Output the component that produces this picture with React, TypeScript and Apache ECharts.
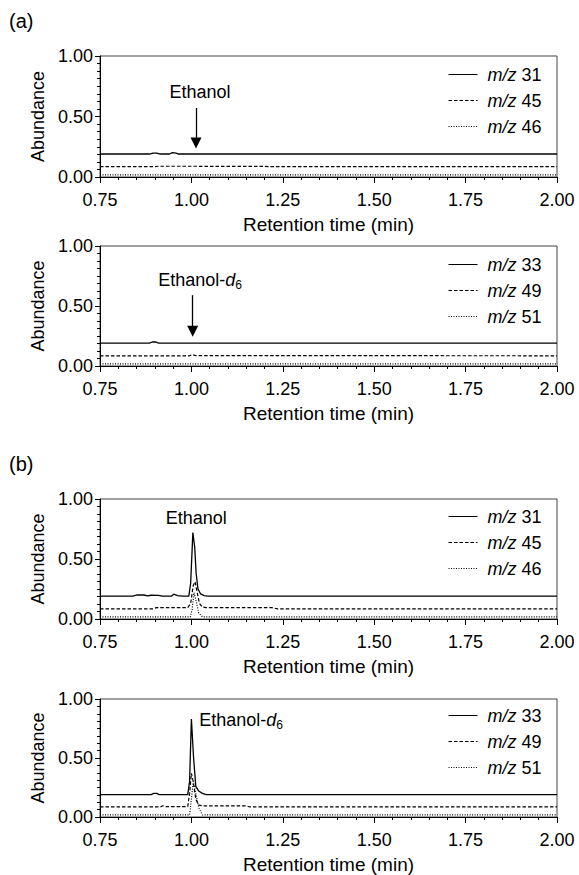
import React, { useEffect, useRef } from "react";
import * as echarts from "echarts";

// ---------- data ----------
const panelLetters = ["(a)", "(b)"];
const xTickRange = [0.75, 2.0];
const yTickRange = [0.0, 1.0];

const namesD0 = ["m/z 31", "m/z 45", "m/z 46"];
const namesD6 = ["m/z 33", "m/z 49", "m/z 51"];

// (a) upper: m/z 31 / 45 / 46
const aTop31 = [[0.75, 0.19], [0.885, 0.19], [0.895, 0.198], [0.905, 0.198], [0.915, 0.19], [0.94, 0.19], [0.948, 0.201], [0.958, 0.197], [0.965, 0.19], [2.0, 0.19]];
const aTop45 = [[0.75, 0.085], [0.9, 0.085], [0.91, 0.089], [1.2, 0.088], [1.22, 0.085], [2.0, 0.085]];
const aTop46 = [[0.75, 0.017], [2.0, 0.017]];

// (a) lower: m/z 33 / 49 / 51
const aBot33 = [[0.75, 0.19], [0.885, 0.19], [0.893, 0.2], [0.903, 0.2], [0.91, 0.19], [2.0, 0.19]];
const aBot49 = [[0.75, 0.085], [0.995, 0.085], [1.003, 0.095], [1.012, 0.087], [2.0, 0.085]];
const aBot51 = [[0.75, 0.017], [2.0, 0.017]];

// (b) upper
const bTop31 = [[0.75, 0.19], [0.84, 0.19], [0.85, 0.2], [0.87, 0.2], [0.88, 0.192], [0.89, 0.198], [0.91, 0.197], [0.92, 0.19], [0.945, 0.19], [0.952, 0.207], [0.962, 0.195], [0.975, 0.19], [0.993, 0.19], [0.998, 0.3], [1.004, 0.72], [1.009, 0.6], [1.013, 0.38], [1.018, 0.25], [1.025, 0.21], [1.035, 0.195], [1.045, 0.19], [2.0, 0.19]];
const bTop45 = [[0.75, 0.085], [0.895, 0.085], [0.905, 0.095], [0.99, 0.095], [0.998, 0.13], [1.005, 0.28], [1.01, 0.31], [1.016, 0.22], [1.022, 0.13], [1.03, 0.1], [1.04, 0.095], [1.22, 0.095], [1.235, 0.085], [2.0, 0.085]];
const bTop46 = [[0.75, 0.018], [0.997, 0.018], [1.002, 0.08], [1.007, 0.22], [1.013, 0.15], [1.02, 0.05], [1.03, 0.018], [2.0, 0.018]];

// (b) lower
const bBot33 = [[0.75, 0.19], [0.89, 0.19], [0.897, 0.2], [0.905, 0.2], [0.912, 0.19], [0.99, 0.19], [0.995, 0.3], [1.0, 0.83], [1.006, 0.5], [1.012, 0.26], [1.02, 0.22], [1.03, 0.2], [1.04, 0.19], [2.0, 0.19]];
const bBot49 = [[0.75, 0.085], [0.915, 0.085], [0.922, 0.095], [0.93, 0.088], [0.99, 0.088], [0.995, 0.2], [1.0, 0.37], [1.005, 0.3], [1.012, 0.15], [1.02, 0.1], [1.03, 0.095], [1.15, 0.095], [1.16, 0.085], [2.0, 0.085]];
const bBot51 = [[0.75, 0.018], [0.995, 0.018], [1.0, 0.15], [1.005, 0.3], [1.012, 0.2], [1.02, 0.08], [1.03, 0.018], [2.0, 0.018]];

// annotation text anchors [x, y] and arrows [[x, yStart], [x, yEnd]]
const labelTexts = ["Ethanol", "Ethanol-{i|d}{s|6}", "Ethanol", "Ethanol-{i|d}{s|6}"];
const labelCoords = [[1.0235, 0.705], [1.0235, 0.715], [1.0134, 0.845], [1.136, 0.82]];
const arrowCoords: (number[][] | null)[] = [
  [[1.0126, 0.57], [1.0126, 0.28]],
  [[1.0035, 0.59], [1.0035, 0.29]],
  null,
  null,
];

const panelSeries = [
  [aTop31, aTop45, aTop46],
  [aBot33, aBot49, aBot51],
  [bTop31, bTop45, bTop46],
  [bBot33, bBot49, bBot51],
];
const panelNames = [namesD0, namesD6, namesD0, namesD6];

// ---------- layout / style ----------
const FONT = "'Liberation Sans', Arial, Helvetica, sans-serif";
const gridTops = [56, 246, 499, 699];
const gridHeights = [121, 120, 120, 120];
const legendTops = [65.5, 255.5, 507.5, 706.5];
const dashTypes: any[] = ["solid", [3.5, 2], [1, 1.5]];

export default function App() {
  const ref = useRef<HTMLDivElement>(null);

  useEffect(() => {
    if (!ref.current) return;
    const chart = echarts.init(ref.current, null, { renderer: "svg" });

    const grids: any[] = [];
    const xAxes: any[] = [];
    const yAxes: any[] = [];
    const series: any[] = [];
    const legends: any[] = [];

    const richSub = {
      i: { fontStyle: "italic", fontSize: 18, fontFamily: FONT, color: "#000" },
      s: { fontSize: 12, fontFamily: FONT, color: "#000", verticalAlign: "bottom", lineHeight: 22 },
    };

    for (let p = 0; p < 4; p++) {
      grids.push({
        left: 100,
        right: 22,
        top: gridTops[p],
        height: gridHeights[p],
        show: true,
        borderColor: "#444",
        borderWidth: 1,
      });
      xAxes.push({
        type: "value",
        gridIndex: p,
        min: xTickRange[0],
        max: xTickRange[1],
        interval: 0.25,
        name: "Retention time (min)",
        nameLocation: "middle",
        nameGap: 38,
        nameTextStyle: { fontSize: 19, fontFamily: FONT, color: "#000" },
        axisLine: { onZero: false, lineStyle: { color: "#000", width: 1 } },
        axisTick: { show: true, inside: false, length: 6, lineStyle: { color: "#000" } },
        minorTick: { show: true, splitNumber: 5, length: 3, lineStyle: { color: "#000" } },
        splitLine: { show: false },
        axisLabel: {
          fontSize: 18,
          fontFamily: FONT,
          color: "#000",
          margin: 14,
          formatter: (v: number) => v.toFixed(2),
        },
      });
      yAxes.push({
        type: "value",
        gridIndex: p,
        min: yTickRange[0],
        max: yTickRange[1],
        interval: 0.5,
        name: "Abundance",
        nameLocation: "middle",
        nameGap: 46,
        nameTextStyle: { fontSize: 18, fontFamily: FONT, color: "#000" },
        axisLine: { show: true, onZero: false, lineStyle: { color: "#000", width: 1 } },
        axisTick: { show: true, inside: false, length: 5, lineStyle: { color: "#000" } },
        minorTick: { show: true, splitNumber: 8, length: 3, lineStyle: { color: "#000" } },
        splitLine: { show: false },
        axisLabel: {
          fontSize: 18,
          fontFamily: FONT,
          color: "#000",
          margin: 7,
          formatter: (v: number) => v.toFixed(2),
        },
      });

      legends.push({
        orient: "vertical",
        left: 448,
        top: legendTops[p],
        padding: 0,
        itemGap: 8,
        itemWidth: 29,
        itemHeight: 10,
        data: panelNames[p],
        selectedMode: false,
        itemStyle: { color: "rgba(0,0,0,0)", borderColor: "rgba(0,0,0,0)", borderWidth: 0, opacity: 0 },
        lineStyle: { width: 1 },
        textStyle: {
          fontSize: 18,
          fontFamily: FONT,
          color: "#000",
          lineHeight: 18,
          padding: [0, 0, 0, 5],
          rich: {
            i: { fontStyle: "italic", fontSize: 18, fontFamily: FONT, color: "#000", lineHeight: 18 },
          },
        },
        formatter: (name: string) => {
          const parts = name.split(" ");
          return `{i|${parts[0]}} ${parts[1]}`;
        },
      });

      for (let k = 0; k < 3; k++) {
        const s: any = {
          type: "line",
          name: panelNames[p][k],
          xAxisIndex: p,
          yAxisIndex: p,
          data: panelSeries[p][k],
          symbol: "none",
          showSymbol: false,
          smooth: false,
          lineStyle: { color: "#000", width: k === 0 ? 1.3 : 1.2, type: dashTypes[k] },
          itemStyle: { color: "#000" },
          emphasis: { disabled: true },
          z: 3 - k,
        };
        if (k === 0) {
          s.markPoint = {
            silent: true,
            symbol: "circle",
            symbolSize: 0,
            itemStyle: { color: "transparent" },
            data: [{ coord: labelCoords[p] }],
            label: {
              show: true,
              position: "inside",
              formatter: labelTexts[p],
              fontSize: 18,
              fontFamily: FONT,
              color: "#000",
              lineHeight: 22,
              rich: richSub,
            },
          };
          const arr = arrowCoords[p];
          if (arr) {
            s.markLine = {
              silent: true,
              symbol: ["none", "triangle"],
              symbolSize: 11,
              label: { show: false },
              itemStyle: { color: "#000" },
              lineStyle: { color: "#000", width: 1.3, type: "solid", opacity: 1 },
              emphasis: { disabled: true },
              data: [[{ coord: arr[0] }, { coord: arr[1] }]],
            };
          }
        }
        series.push(s);
      }
    }

    chart.setOption({
      animation: false,
      backgroundColor: "#fff",
      textStyle: { fontFamily: FONT },
      graphic: [
        { type: "text", left: 9, top: 11, style: { text: panelLetters[0], fontSize: 20, fontFamily: FONT, fill: "#000" } },
        { type: "text", left: 9, top: 454, style: { text: panelLetters[1], fontSize: 20, fontFamily: FONT, fill: "#000" } },
      ],
      grid: grids,
      xAxis: xAxes,
      yAxis: yAxes,
      legend: legends,
      series,
    });

    return () => chart.dispose();
  }, []);

  return (
    <div
      ref={ref}
      style={{ position: "fixed", left: 0, top: 0, width: 579, height: 875, background: "#fff" }}
    />
  );
}
